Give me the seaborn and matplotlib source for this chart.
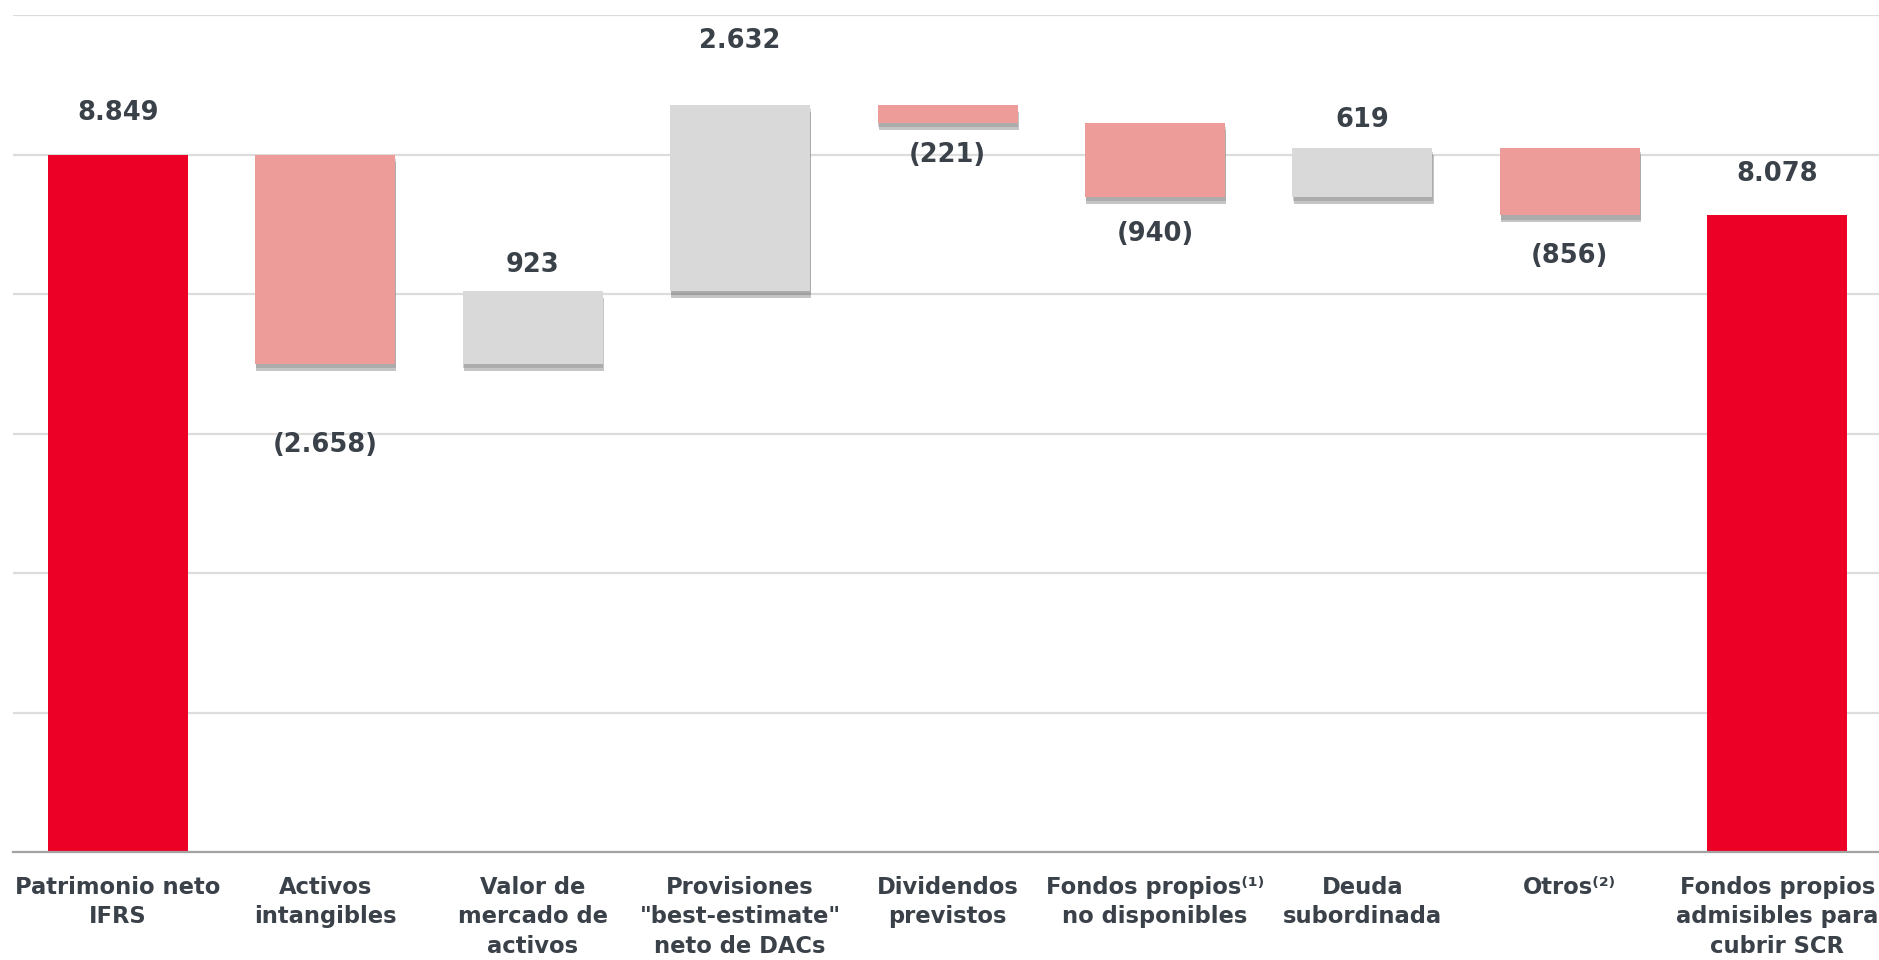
import numpy as np
import pandas as pd
import matplotlib
matplotlib.use("Agg")
import matplotlib.pyplot as plt
import matplotlib.patheffects as pe
import seaborn as sns

# ---------------- data ----------------
categories = [
    "Patrimonio neto\nIFRS",
    "Activos\nintangibles",
    "Valor de\nmercado de\nactivos",
    "Provisiones\n\"best-estimate\"\nneto de DACs",
    "Dividendos\nprevistos",
    "Fondos propios\u207d\u00b9\u207e\nno disponibles",
    "Deuda\nsubordinada",
    "Otros\u207d\u00b2\u207e",
    "Fondos propios\nadmisibles para\ncubrir SCR",
]
start_total = 8849
end_total = 8078
# step sizes as drawn in the chart (bar heights)
steps = [-2658, 923, 2362, -221, -940, 619, -856]
value_labels = ["8.849", "(2.658)", "923", "2.632", "(221)", "(940)", "619", "(856)", "8.078"]

# ---------------- derived geometry ----------------
levels = start_total + np.cumsum(steps)
prev = np.concatenate([[start_total], levels[:-1]])
bottoms = np.concatenate([[0], np.minimum(prev, levels), [0]])
heights = np.concatenate([[start_total], np.abs(steps), [end_total]])
tops = bottoms + heights

RED = "#EC0026"
PINK = "#EE9C9A"
GREY = "#D9D9D9"
TEXT = "#3A4149"
colors = [RED] + [PINK if s < 0 else GREY for s in steps] + [RED]

df = pd.DataFrame({"cat": categories, "h": heights})

# ---------------- figure ----------------
sns.set_theme(style="white")
plt.rcParams["font.family"] = ["DejaVu Sans"]

fig = plt.figure(figsize=(18.79, 9.60), dpi=100)
ax = fig.add_axes([13 / 1879, (960 - 852) / 960, (1879 - 13) / 1879, (852 - 15) / 960])

sns.barplot(data=df, x="cat", y="h", bottom=bottoms, width=0.675, color=GREY,
            ax=ax, errorbar=None, zorder=3, linewidth=0)

for i, (patch, c) in enumerate(zip(ax.patches, colors)):
    patch.set_facecolor(c)
    patch.set_edgecolor("none")
    if 0 < i < len(colors) - 1:
        patch.set_path_effects([
            pe.SimplePatchShadow(offset=(0.8, -5), shadow_rgbFace="#808080", alpha=0.45),
            pe.SimplePatchShadow(offset=(0.5, -3), shadow_rgbFace="#808080", alpha=0.35),
            pe.Normal(),
        ])

ax.set_xlim(-0.505, 8.49)
ymax = 10620
ax.set_ylim(0, ymax)
ax.set_yticks(np.linspace(0, ymax, 7))
ax.yaxis.grid(True, color="#DCDCDC", linewidth=1.6, zorder=0)
ax.set_axisbelow(True)
ax.tick_params(axis="y", left=False, labelleft=False)
ax.tick_params(axis="x", bottom=False, pad=11)
for lab in ax.get_xticklabels():
    lab.set_fontsize(16.3)
    lab.set_fontweight("bold")
    lab.set_color(TEXT)
    lab.set_linespacing(1.38)
ax.set_xlabel("")
ax.set_ylabel("")
for s in ["top", "right", "left"]:
    ax.spines[s].set_visible(False)
ax.spines["bottom"].set_color("#A3A3A3")
ax.spines["bottom"].set_linewidth(1.6)
ax.spines["bottom"].set_zorder(4)

# value labels (offset in points from bar top / bottom)
label_offsets = [30, -58, 19, 46, -23, -27, 20, -29, 30]
for i, (txt, off) in enumerate(zip(value_labels, label_offsets)):
    anchor = tops[i] if off > 0 else bottoms[i]
    ax.annotate(txt, xy=(i, anchor), xytext=(0, off), textcoords="offset points",
                ha="center", va="center", fontsize=18.5, fontweight="bold", color=TEXT,
                zorder=5)

fig.savefig("out.png", dpi=100, facecolor="white")
